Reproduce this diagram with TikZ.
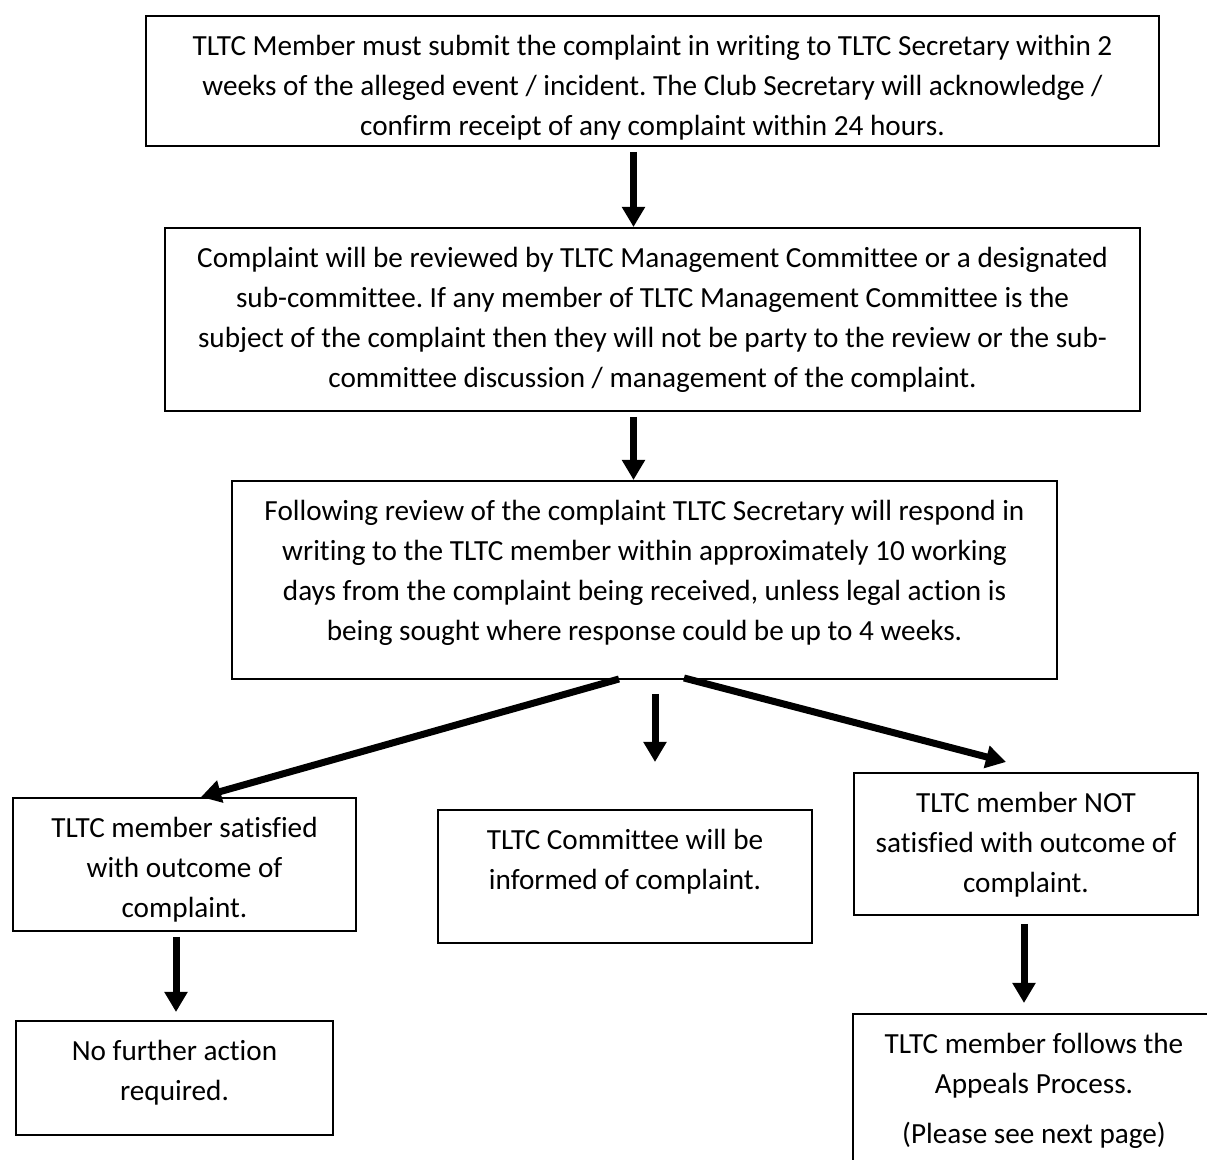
\documentclass[tikz,border=0pt]{standalone}
\usepackage{fontspec}
\setmainfont{Carlito}[Ligatures=NoCommon]
\usetikzlibrary{arrows.meta,calc,positioning}
\frenchspacing

\begin{document}
\begin{tikzpicture}[x=0.5pt,y=-0.5pt,
    box/.style={draw,line width=1pt,inner sep=0pt,anchor=north west},
    txt/.style={anchor=north,align=center,inner sep=0pt,yshift=-10pt,
                font=\fontsize{14.6}{20}\selectfont},
    arr/.style={line width=3.5pt,-{Triangle[length=10pt,width=11pt]}}]
  \useasboundingbox (0,0) rectangle (1207,1160);
  \clip (0,0) rectangle (1207,1160);
  % boxes
  \node[box,minimum width=506.5pt,minimum height=65pt,
    label={[txt]north:TLTC Member must submit the complaint in writing to TLTC Secretary within 2\\
      weeks of the alleged event / incident. The Club Secretary will acknowledge /\\
      confirm receipt of any complaint within 24 hours.}] (sub) at (145,15) {};
  \node[box,minimum width=487.5pt,minimum height=91.5pt,
    label={[txt]north:Complaint will be reviewed by TLTC Management Committee or a designated\\
      sub-committee. If any member of TLTC Management Committee is the\\
      subject of the complaint then they will not be party to the review or the sub-\\
      committee discussion / management of the complaint.}] (rev) at (164,227) {};
  \node[box,minimum width=412.5pt,minimum height=99pt,
    label={[txt]north:Following review of the complaint TLTC Secretary will respond in\\
      writing to the TLTC member within approximately 10 working\\
      days from the complaint being received, unless legal action is\\
      being sought where response could be up to 4 weeks.}] (resp) at (231,480) {};
  \node[box,minimum width=171.5pt,minimum height=66.5pt,
    label={[txt]north:TLTC member satisfied\\ with outcome of\\ complaint.}] (sat) at (12,797) {};
  \node[box,minimum width=187pt,minimum height=66.5pt,
    label={[txt]north:TLTC Committee will be\\ informed of complaint.}] (inf) at (437,809) {};
  \node[box,minimum width=172pt,minimum height=71pt,
    label={[txt]north:TLTC member NOT\\ satisfied with outcome of\\ complaint.}] (notsat) at (853,772) {};
  \node[box,minimum width=158.5pt,minimum height=57pt,
    label={[txt]north:No further action\\ required.}] (nfa) at (15,1020) {};
  \node[box,minimum width=181pt,minimum height=85pt,
    label={[txt]north:TLTC member follows the\\ Appeals Process.\\[5pt] (Please see next page)}] (appeal) at (852,1013) {};
  % arrows
  \draw[arr] ($(sub.south)+(-19,5)$) -- ($(rev.north)+(-19,0)$);
  \draw[arr] ($(rev.south)+(-19,5)$) -- ($(resp.north)+(-11,0)$);
  \draw[arr] ($(resp.south)+(-25.5,-1)$) -- ($(sat.north)+(16.5,0)$);
  \draw[arr] ($(resp.south)+(10.5,14)$) -- ($(inf.north)+(30,-47)$);
  \draw[arr] ($(resp.south)+(39.5,-2)$) -- ($(notsat.north)+(-20,-10)$);
  \draw[arr] ($(sat.south)+(-8.5,5)$) -- ($(nfa.north)+(1.5,-8)$);
  \draw[arr] ($(notsat.south)+(-2,8)$) -- ($(appeal.north)+(-10,-10)$);
\end{tikzpicture}
\end{document}
